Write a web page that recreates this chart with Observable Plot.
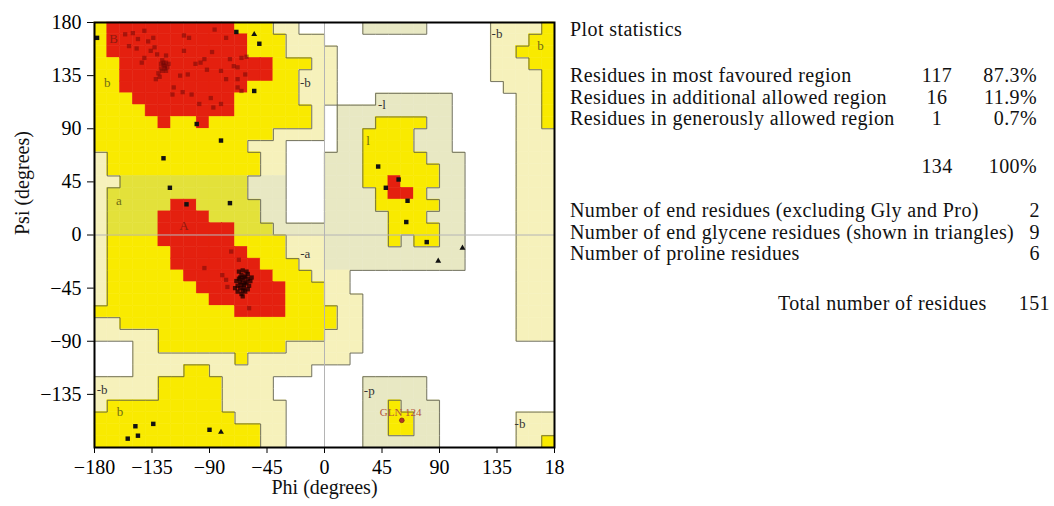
<!DOCTYPE html>
<html><head><meta charset="utf-8">
<script src="https://cdn.jsdelivr.net/npm/d3@7"></script>
<script src="https://cdn.jsdelivr.net/npm/@observablehq/plot@0.6"></script>
<style>
html,body{margin:0;padding:0;background:#fff;}
#wrap{position:relative;width:1054px;height:506px;overflow:hidden;background:#fff;}
#chart{position:absolute;left:0;top:0;}
#stats{position:absolute;left:562px;top:0;}
</style></head><body>
<div id="wrap"><div id="chart"></div><svg id="stats" width="492" height="506"></svg></div>
<script>
// ---- Region map: 10° cells, rows from psi 180 (top) down to -180, columns phi -180 .. 180
// R = most favoured, Y/G = additional allowed, L/M = generously allowed, . = disallowed
const regionRows = [
"YRRRRRRRRRRYYYLL.....MMMMM.....LLLLY",
"YRRRRRRRRRRRYYYLLL.............LLLYY",
"YRRRRRRRRRRRYYYLLLL............LLYYY",
"YYRRRRRRRRRRRRYYYLL............LLLYY",
"YYRRRRRRRRRRRRYYLLL............LLLLY",
"YYRRRRRRRRRRYYYYLLL.............LLLY",
"YYYRRRRRRRRYYYYYLLL...MMMMMM.....LLY",
"YYYYRRRRRRRYYYYYYL.MMMMMMMMM.....LLY",
"YYYYYRYYRYYYYYYYYL.MMMYYYYMM.....LLY",
"YYYYYYYYYYYYYYLLLL.MMYYYYMMM.....LLL",
"YYYYYYYYYYYYLLL....MMYYYYMMM.....LLL",
"LYYYYYYYYYYYYLL...MMMYYYYYMMM....LLL",
"LYYYYYYYYYYYYLL...MMMYYYYYYMM....LLL",
"LLGGGGGGGGGGMMM...MMMYYRYYYMM....LLL",
"LGGGGGGGGGGGMMM...MMMMYRRYMMM....LLL",
"LGGGGGRRGGGGGMM...MMMMYYYYYMM....LLL",
"LGGGGRRRRGGGGMM...MMMMMYYYMMM....LLL",
"LGGGGRRRRRRGGGMMMMMMMMMYYYYMM....LLL",
"LYYYYRRRRRRYYYYLLLMMMMMYMYYMM....LLL",
"LYYYYYRRRRRRYYYLLLMMMMMMMMMMM....LLL",
"LYYYYYRRRRRRRYYYLLMMMMMMMMMMM....LLL",
"LYYYYYYRRRRRRRYYYLLL.............LLL",
"LYYYYYYYRRRRRRRYYYLL.............LLL",
"LYYYYYYYYRRRRRRYYYLLL............LLL",
"YYYYYYYYYYYRRRRYYYYLL............LLL",
"LLYYYYYYYYYYYYYYYYYLL............LLL",
"LLLLLYYYYYYYYYYYYYLLL............LLL",
"...LLYYYYYYYYYYLLLLLL...............",
"...LLLLLLLLYLLLLLLLL................",
"...LLLLYYLLLLLLLL...................",
"LLLLLYYYYYLLLL.......MMMMM..........",
"LLLLLYYYYYLLLL.......MMMMM..........",
"LYYYYYYYYYLLLLL......MMYMMM.........",
"YYYYYYYYYYYLLLL......MMYYMM......LLL",
"YYYYYYYYYYYYYLL......MMYYMM......LLL",
"YYYYYYYYYYYYYLL......MMMMMM......LLY"
];
const regionColors = {R:"#e4200f", Y:"#f9ea00", G:"#e3e13a", L:"#f6f1bb", M:"#e8e8c3"};
const regionLevel = {R:3, Y:2, G:2, L:1, M:1, ".":0};

// Axis ticks and their labels as printed
const xTicks = [-180,-135,-90,-45,0,45,90,135,180];
const xTickLabels = ["\u2212180","\u2212135","\u221290","\u221245","0","45","90","135","18"];
const yTicks = [180,135,90,45,0,-45,-90,-135];
const yTickLabels = ["180","135","90","45","0","\u221245","\u221290","\u2212135"];

// Region labels
const regionLabels = [
 {phi:-165, psi:166, text:"B", kind:"core"},
 {phi:-110, psi:8,   text:"A", kind:"core"},
 {phi:-170, psi:129, text:"b", kind:"allowed"},
 {phi:-161, psi:29,  text:"a", kind:"allowed"},
 {phi:-160, psi:-150,text:"b", kind:"allowed"},
 {phi:34,   psi:80,  text:"l", kind:"allowed"},
 {phi:169,  psi:160, text:"b", kind:"allowed"},
 {phi:-15,  psi:129, text:"-b", kind:"gen"},
 {phi:-15,  psi:-16, text:"-a", kind:"gen"},
 {phi:-174, psi:-131,text:"-b", kind:"gen"},
 {phi:45,   psi:110, text:"-l", kind:"gen"},
 {phi:135,  psi:170, text:"-b", kind:"gen"},
 {phi:35,   psi:-132,text:"-p", kind:"gen"},
 {phi:153,  psi:-160,text:"-b", kind:"gen"}
];
const labelColors = {core:"#8e1a10", allowed:"#6f6c14", gen:"#333333"};

// Residues (phi, psi)
const betaCorePoints = [
[-150,171],[-146,166],[-153,160],[-147,158],[-141,173],[-138,164],[-134,167],[-133,159],[-131,153],[-143,146],
[-141,150],[-130,137],[-128,141],[-126,146],[-125,143],[-124,139],[-127,148],[-122,145],[-132,132],[-129,134],
[-126,144],[-125,141],[-127,139],[-124,146],[-128,145],[-123,142],[-110,169],[-106,167],[-110,156],[-113,135],
[-107,136],[-101,145],[-97,146],[-94,149],[-119,119],[-111,121],[-104,119],[-98,111],[-89,116],[-87,108],
[-81,111],[-86,174],[-77,167],[-74,149],[-81,139],[-77,132],[-71,143],[-68,142],[-65,150],[-61,151],
[-68,132],[-68,125],[-65,122],[-88,155],[-92,140],[-118,125],[-136,156],[-124,152],[-156,170],[-62,136]
];
const alphaCorePoints = [[-73,-14],[-67,-21],[-94,-28],[-80,-34],[-77,-38],[-76,-44],[-59,-62]];
const helixCluster = [
[-64,-38],[-62,-35],[-66,-40],[-63,-42],[-61,-40],[-65,-34],[-67,-37],[-60,-37],[-63,-45],[-66,-45],
[-62,-48],[-65,-50],[-68,-43],[-59,-43],[-61,-31],[-64,-30],[-67,-31],[-69,-39],[-58,-39],[-60,-46],
[-64,-52],[-68,-48],[-63,-36],[-65,-42],[-62,-41],[-66,-36],[-60,-33],[-57,-36],[-70,-45],[-64,-47]
];
const squarePoints = [
[-178,167],[-69,172],[-51,162],[-55,122],[-100,94],[-81,80],[-126,65],[-121,40],[-74,27],[-108,26],
[42,58],[48,40],[58,47],[65,29],[64,11],[80,-6],
[-148,-162],[-134,-160],[-146,-170],[-154,-172.5],[-90,-165]
];
const glycinePoints = [[-55,170],[-81,-167],[108,-11],[89,-22]];
const outlierPoints = [{phi:60.5, psi:-157, label:"GLN 124", lphi:59.6, lpsi:-150.5}];

// Statistics panel
const regionStatLabels = ["Residues in most favoured region","Residues in additional allowed region","Residues in generously allowed region"];
const regionStatCounts = ["117","16","1"];
const regionStatPercents = ["87.3%","11.9%","0.7%"];
const regionTotal = ["134","100%"];
const residueStatLabels = ["Number of end residues (excluding Gly and Pro)","Number of end glycene residues (shown in triangles)","Number of proline residues"];
const residueStatCounts = ["2","9","6"];
const totalResidues = ["Total number of residues","151"];

// ---- build cells and boundary segments from the grid
const cells = [];
const edges = [];
regionRows.forEach((row, r) => {
  for (let c = 0; c < row.length; c++) {
    const code = row[c];
    const phi1 = -180 + 10 * c, phi2 = phi1 + 10, psi2 = 180 - 10 * r, psi1 = psi2 - 10;
    if (code !== ".") cells.push({code, phi1, phi2, psi1, psi2});
    const a = regionLevel[code];
    if (c < row.length - 1) {
      const b = regionLevel[row[c + 1]];
      if (a !== b && a < 3 && b < 3) edges.push({x1: phi2, x2: phi2, y1: psi1, y2: psi2});
    }
    if (r < regionRows.length - 1) {
      const b = regionLevel[regionRows[r + 1][c]];
      if (a !== b && a < 3 && b < 3) edges.push({x1: phi1, x2: phi2, y1: psi1, y2: psi1});
    }
  }
});

const SERIF = "'Liberation Serif','Times New Roman',serif";
const xFmt = d => xTickLabels[xTicks.indexOf(d)];
const yFmt = d => yTickLabels[yTicks.indexOf(d)];

const chart = Plot.plot({
  width: 568, height: 506,
  marginLeft: 94, marginRight: 14, marginTop: 22, marginBottom: 59,
  style: {fontFamily: SERIF, fontSize: "20px", background: "white", overflow: "visible", color: "black"},
  x: {domain: [-180, 180], ticks: xTicks, tickFormat: xFmt, tickSize: 6, tickPadding: 6, label: null},
  y: {domain: [-180, 180], ticks: yTicks, tickFormat: yFmt, tickSize: 7, tickPadding: 6, label: null},
  marks: [
    Plot.rect(cells, {x1: "phi1", x2: "phi2", y1: "psi1", y2: "psi2",
      fill: d => regionColors[d.code], stroke: d => regionColors[d.code], strokeWidth: 0.5}),
    Plot.link(edges, {x1: "x1", y1: "y1", x2: "x2", y2: "y2", stroke: "#5e5e48", strokeWidth: 1.1, strokeOpacity: 0.8}),
    Plot.ruleX([0], {stroke: "#b4b4b4", strokeWidth: 1}),
    Plot.ruleY([0], {stroke: "#b4b4b4", strokeWidth: 1}),
    Plot.text(regionLabels, {x: "phi", y: "psi", text: "text", fill: d => labelColors[d.kind], fontSize: 13, fontFamily: SERIF}),
    Plot.dot(betaCorePoints, {x: d => d[0], y: d => d[1], symbol: "square", r: 2.4, fill: "#6a0606", fillOpacity: 0.5}),
    Plot.dot(alphaCorePoints, {x: d => d[0], y: d => d[1], symbol: "square", r: 2.4, fill: "#6a0606", fillOpacity: 0.5}),
    Plot.dot(helixCluster, {x: d => d[0], y: d => d[1], symbol: "square", r: 2.4, fill: "#1a0000", fillOpacity: 0.75}),
    Plot.dot(squarePoints, {x: d => d[0], y: d => d[1], symbol: "square", r: 2.5, fill: "#111"}),
    Plot.dot(glycinePoints, {x: d => d[0], y: d => d[1], symbol: "triangle", r: 2.2, fill: "#111"}),
    Plot.text(outlierPoints, {x: "lphi", y: "lpsi", text: "label", fill: "#b4553c", fontSize: 11, fontFamily: SERIF}),
    Plot.dot(outlierPoints, {x: "phi", y: "psi", r: 2.4, fill: "#b03a26", stroke: "#6a1a10", strokeWidth: 0.6}),
    Plot.text(["Phi (degrees)"], {frameAnchor: "bottom", dy: 46, text: d => d, fontSize: 20, fontFamily: SERIF, fill: "#111"}),
    Plot.text(["Psi (degrees)"], {frameAnchor: "left", dx: -71.5, rotate: -90, text: d => d, fontSize: 20, fontFamily: SERIF, fill: "#111"}),
    Plot.frame({stroke: "black", strokeWidth: 2})
  ]
});
document.getElementById("chart").appendChild(chart);

// ---- statistics panel (to the right of the plot)
const X0 = 562;
const stats = d3.select("#stats")
  .style("font-family", SERIF).style("font-size", "20px").style("letter-spacing", "0.4px").style("fill", "#111");
function put(x, y, s, anchor) {
  stats.append("text").attr("x", x - X0).attr("y", y).attr("text-anchor", anchor || "start").text(s);
}
put(570, 36, "Plot statistics");
regionStatLabels.forEach((s, i) => {
  const y = 82 + i * 21.5;
  put(570, y, s);
  put(937, y, regionStatCounts[i], "middle");
  put(1037, y, regionStatPercents[i], "end");
});
put(937, 173, regionTotal[0], "middle");
put(1037, 173, regionTotal[1], "end");
residueStatLabels.forEach((s, i) => {
  const y = 217 + i * 21.5;
  put(570, y, s);
  put(1040, y, residueStatCounts[i], "end");
});
put(778, 310, totalResidues[0]);
put(1050, 310, totalResidues[1], "end");
</script></body></html>
